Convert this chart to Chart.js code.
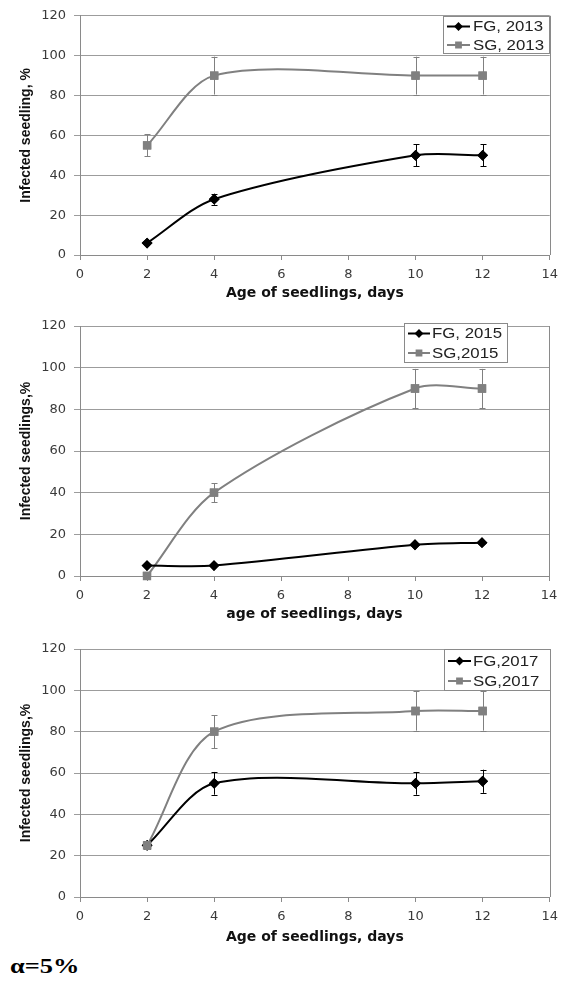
<!DOCTYPE html>
<html>
<head>
<meta charset="utf-8">
<script src="https://cdn.jsdelivr.net/npm/chart.js@4.4.1/dist/chart.umd.min.js"></script>
<style>
  html, body { margin: 0; padding: 0; background: #fff; }
  body { width: 565px; height: 983px; position: relative; overflow: hidden; }
  canvas { position: absolute; left: 0; }
  #alpha {
    position: absolute; left: 10px; top: 953px;
    font: bold 22px "Liberation Serif", "Times New Roman", serif;
    color: #000; transform: scaleX(1.2); transform-origin: 0 50%;
  }
</style>
</head>
<body>
<canvas id="c2013" width="565" height="310" style="top:0px"></canvas>
<canvas id="c2015" width="565" height="315" style="top:310px"></canvas>
<canvas id="c2017" width="565" height="320" style="top:630px"></canvas>
<div id="alpha">α=5%</div>

<script>
// Sampling days (x values shared by every series)
const days = [2, 4, 10, 12];

// 2013
const fg2013 = [6, 28, 50, 50];
const fg2013Err = [0, 2.75, 5.5, 5.5];
const sg2013 = [55, 90, 90, 90];
const sg2013Err = [5.5, 9.5, 9.5, 9.5];
const labels2013 = ['FG, 2013', 'SG, 2013'];

// 2015
const fg2015 = [5, 5, 15, 16];
const fg2015Err = [0, 0, 0, 0];
const sg2015 = [0, 40, 90, 90];
const sg2015Err = [0, 4.6, 9.4, 9.4];
const labels2015 = ['FG, 2015', 'SG,2015'];

// 2017
const fg2017 = [25, 55, 55, 56];
const fg2017Err = [2, 5.5, 5.5, 5.6];
const sg2017 = [25, 80, 90, 90];
const sg2017Err = [2, 8, 9.5, 9.5];
const labels2017 = ['FG,2017', 'SG,2017'];

// Axis ranges / tick steps
const xRange = [0, 14];
const xStep = 2;
const yRange = [0, 120];
const yStep = 20;

Chart.defaults.font.family = '"DejaVu Sans", "Liberation Sans", Arial, sans-serif';
Chart.defaults.color = '#3a3a3a';

const GRID = '#9c9c9c';
const AXIS = '#8a8a8a';
const FG_COLOR = '#000000';
const SG_COLOR = '#808080';

// vertical error bars with small caps; markers are redrawn on top
const errorBars = {
  id: 'errorBars',
  afterDatasetsDraw(chart) {
    const { ctx, scales: { x, y } } = chart;
    chart.data.datasets.forEach((ds, di) => {
      if (!ds.errors) return;
      const meta = chart.getDatasetMeta(di);
      ctx.save();
      ctx.strokeStyle = ds.borderColor;
      ctx.lineWidth = 1;
      ds.data.forEach((p, i) => {
        const e = ds.errors[i];
        if (!e) return;
        const px = Math.round(x.getPixelForValue(p.x)) + 0.5;
        const top = y.getPixelForValue(p.y + e);
        const bot = y.getPixelForValue(p.y - e);
        ctx.beginPath();
        ctx.moveTo(px, top); ctx.lineTo(px, bot);
        ctx.moveTo(px - 3, Math.round(top) + 0.5); ctx.lineTo(px + 3, Math.round(top) + 0.5);
        ctx.moveTo(px - 3, Math.round(bot) + 0.5); ctx.lineTo(px + 3, Math.round(bot) + 0.5);
        ctx.stroke();
      });
      ctx.restore();
      meta.data.forEach(pt => pt.draw(ctx, chart.chartArea));
    });
  }
};

// right-hand frame line of the plot area
const plotFrame = {
  id: 'plotFrame',
  afterDraw(chart) {
    const { ctx, chartArea: a } = chart;
    ctx.save();
    ctx.strokeStyle = AXIS;
    ctx.lineWidth = 1;
    ctx.beginPath();
    ctx.moveTo(Math.round(a.right) + 0.5, a.top);
    ctx.lineTo(Math.round(a.right) + 0.5, a.bottom);
    ctx.stroke();
    ctx.restore();
  }
};

// boxed legend inside the plot, anchored to the top-right corner
const boxLegend = {
  id: 'boxLegend',
  afterDraw(chart, args, o) {
    const { ctx, chartArea: a } = chart;
    const bx = Math.round(a.right + o.dx - o.w);
    const by = Math.round(a.top + o.dy);
    ctx.save();
    ctx.fillStyle = '#fff';
    ctx.fillRect(bx, by, o.w, o.h);
    ctx.strokeStyle = AXIS;
    ctx.lineWidth = 1;
    ctx.strokeRect(bx + 0.5, by + 0.5, o.w, o.h);
    chart.data.datasets.forEach((ds, i) => {
      const cy = by + o.rows[i];
      ctx.strokeStyle = ds.borderColor;
      ctx.lineWidth = 2;
      ctx.beginPath();
      ctx.moveTo(bx + o.sx0, cy);
      ctx.lineTo(bx + o.sx1, cy);
      ctx.stroke();
      ctx.fillStyle = ds.borderColor;
      ctx.strokeStyle = ds.borderColor;
      Chart.helpers.drawPoint(ctx, {
        pointStyle: ds.pointStyle, radius: ds.pointRadius * 0.75, rotation: 0, borderWidth: 1
      }, bx + (o.sx0 + o.sx1) / 2, cy);
      ctx.save();
      ctx.translate(bx + o.tx, cy);
      ctx.scale(1.2, 1);
      ctx.fillStyle = '#222';
      ctx.font = '14px "Liberation Sans", Arial, sans-serif';
      ctx.textBaseline = 'middle';
      ctx.textAlign = 'left';
      ctx.fillText(ds.label, 0, 1);
      ctx.restore();
    });
    ctx.restore();
  }
};

function series(label, vals, errs, color, style, radius) {
  return {
    label,
    data: days.map((d, i) => ({ x: d, y: vals[i] })),
    errors: errs,
    borderColor: color,
    backgroundColor: color,
    pointBackgroundColor: color,
    pointBorderColor: color,
    pointStyle: style,
    pointRadius: radius,
    pointHoverRadius: radius,
    borderWidth: 2,
    tension: 0.3,
    fill: false
  };
}

function makeChart(id, g) {
  const canvas = document.getElementById(id);
  const W = canvas.width, H = canvas.height;
  const titleFont = 14;
  return new Chart(canvas, {
    type: 'line',
    data: {
      datasets: [
        series(g.labels[0], g.fg, g.fgErr, FG_COLOR, 'rectRot', 4),
        series(g.labels[1], g.sg, g.sgErr, SG_COLOR, 'rect', 4.5)
      ]
    },
    options: {
      responsive: false,
      animation: false,
      events: [],
      layout: { padding: { left: 0, top: g.top, right: W - g.right, bottom: 0 } },
      plugins: {
        legend: { display: false },
        tooltip: { enabled: false },
        boxLegend: g.legend
      },
      scales: {
        x: {
          type: 'linear',
          min: xRange[0], max: xRange[1],
          afterFit(s) { s.height = H - g.bottom; },
          ticks: { stepSize: xStep, padding: 7, font: { size: 13 }, color: '#3a3a3a' },
          grid: { drawOnChartArea: false, drawTicks: true, tickLength: 5, color: AXIS },
          border: { display: true, color: AXIS },
          title: {
            display: true, text: g.xTitle, color: '#111',
            font: { size: titleFont, weight: 'bold' },
            padding: { top: 0, bottom: H - g.xTitleY - titleFont * 0.6 }
          }
        },
        y: {
          min: yRange[0], max: yRange[1],
          afterFit(s) { s.width = g.left; },
          ticks: { stepSize: yStep, padding: 8, font: { size: 13 }, color: '#3a3a3a' },
          grid: { color: GRID, tickLength: 6, lineWidth: 1 },
          border: { display: true, color: AXIS },
          title: {
            display: true, text: g.yTitle, color: '#111',
            font: { family: '"Liberation Sans", Arial, sans-serif', size: titleFont, weight: 'bold' },
            padding: { top: g.yTitleX - titleFont * 0.6, bottom: 0 }
          }
        }
      }
    },
    plugins: [plotFrame, errorBars, boxLegend]
  });
}

makeChart('c2013', {
  fg: fg2013, fgErr: fg2013Err, sg: sg2013, sgErr: sg2013Err, labels: labels2013,
  xTitle: 'Age of seedlings, days', yTitle: 'Infected seedling, %',
  left: 80, right: 553, top: 13, bottom: 255, xTitleY: 293, yTitleX: 26,
  legend: { dx: -1, dy: 0, w: 106, h: 37, rows: [10.5, 29], sx0: 4, sx1: 27, tx: 30 }
});

makeChart('c2015', {
  fg: fg2015, fgErr: fg2015Err, sg: sg2015, sgErr: sg2015Err, labels: labels2015,
  xTitle: 'age of seedlings, days', yTitle: 'Infected seedlings,%',
  left: 80, right: 549, top: 16, bottom: 266, xTitleY: 304, yTitleX: 26,
  legend: { dx: -42, dy: -3, w: 103, h: 39, rows: [10.5, 30], sx0: 4, sx1: 26, tx: 28 }
});

makeChart('c2017', {
  fg: fg2017, fgErr: fg2017Err, sg: sg2017, sgErr: sg2017Err, labels: labels2017,
  xTitle: 'Age of seedlings, days', yTitle: 'Infected seedlings,%',
  left: 80, right: 552, top: 19, bottom: 267, xTitleY: 307, yTitleX: 26,
  legend: { dx: 0, dy: 0, w: 106, h: 41, rows: [12, 32], sx0: 4, sx1: 27, tx: 29 }
});
</script>
</body>
</html>
